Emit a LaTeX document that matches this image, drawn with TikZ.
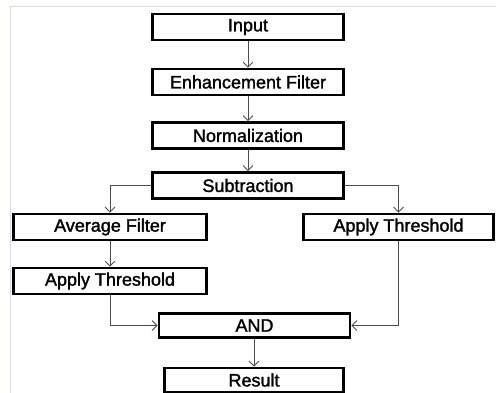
\documentclass[tikz,border=0pt]{standalone}
\usepackage{fontspec}
\setmainfont{Liberation Sans}
\newfontfamily\boxfont[FakeBold=1.6]{Liberation Sans}
\usepackage{tikz}
\usetikzlibrary{calc}
\usetikzlibrary{arrows.meta,positioning}

\begin{document}
\begin{tikzpicture}[x=1pt,y=-1pt,>={Straight Barb[length=5pt,width=10pt]}
        ,stage/.style = {draw=black,line width=2.6pt,rectangle,
                         minimum width=191pt,minimum height=26pt,inner sep=0pt,
                         font=\boxfont\fontsize{18}{20}\selectfont}
        ,link/.style = {draw=black!70,line width=0.9pt}
        ,frame/.style = {draw=blue!15!gray!25,line width=1pt}
      ]
      \useasboundingbox (0,0) rectangle (496,393);
      \draw[frame] (496,7) -- (10,7) -- (10,393);

      \node[stage] (inp) at (248,27) {Input};
      \node[stage,node distance=55pt] (enh) [below of=inp] {Enhancement Filter};
      \node[stage,node distance=53.5pt] (norm) [below of=enh] {Normalization};
      \node[stage,node distance=50pt] (sub) [below of=norm] {Subtraction};
      \node[stage,minimum width=193pt] (avg) at (110,227) {Average Filter};
      \node[stage,minimum width=190pt] (thrR) at (398.5,227) {Apply Threshold};
      \node[stage,minimum width=193pt,node distance=54pt] (thrL) [below of=avg] {Apply Threshold};
      \node[stage,minimum height=24pt] (and) at (254.5,325.5) {AND};
      \node[stage,minimum width=179pt,minimum height=24pt] (res) at (254,380) {Result};

      \draw[link,->] (inp) -- (enh);
      \draw[link,->] (enh) -- (norm);
      \draw[link,->] (norm) -- (sub);
      \draw[link,->] (sub.west) -| (avg.north);
      \draw[link,->] (sub.east) -| (thrR.north);
      \draw[link,->] (avg) -- (thrL);
      \draw[link,->] (thrL.south) |- (and.west);
      \draw[link,->] (thrR.south) |- (and.east);
      \draw[link,->] (and.south -| res.north) -- (res.north);
    \end{tikzpicture}
\end{document}
